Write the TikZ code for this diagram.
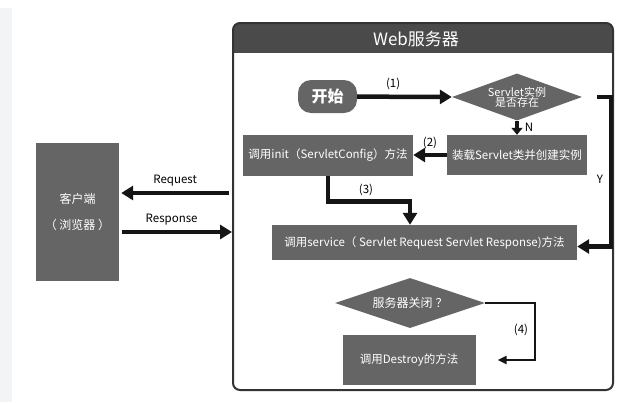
\documentclass[tikz,border=0pt]{standalone}
\usepackage{fontspec}
\setmainfont{Noto Sans CJK SC}
\usetikzlibrary{shapes.geometric,arrows.meta}
\definecolor{boxgray}{HTML}{656565}
\definecolor{headgray}{HTML}{4A4A4A}
\definecolor{framegray}{HTML}{333333}
\definecolor{stripgray}{HTML}{F3F4F6}
\definecolor{arrowblack}{HTML}{151515}
\begin{document}
\begin{tikzpicture}[x=1pt,y=-1pt,
  box/.style={fill=boxgray,text=white,inner sep=0pt,font=\fontsize{11.5}{14}\selectfont},
  decide/.style={diamond,fill=boxgray,inner sep=0pt},
  dtext/.style={text=white,align=center,font=\fontsize{12}{14}\selectfont},
  flow/.style={draw=arrowblack,line width=4.5pt,-{Triangle[length=12pt,width=14pt]}},
  shortflow/.style={draw=arrowblack,line width=4.5pt,-{Triangle[length=7pt,width=11pt]}},
  thinflow/.style={draw=arrowblack,line width=2.2pt,-{Triangle[length=9pt,width=8pt]}},
  lbl/.style={font=\fontsize{11.5}{13}\selectfont}]
  \useasboundingbox (0,0) rectangle (635,402);

  % page strip
  \fill[stripgray] (0,8) rectangle (12,402);

  % server frame with header
  \begin{scope}
    \clip[rounded corners=7pt] (233,23) rectangle (613,390);
    \fill[headgray] (233,23) rectangle (613,53);
  \end{scope}
  \draw[framegray,line width=2pt,rounded corners=7pt] (233,23) rectangle (613,390);
  \node (title) at (416,39) [text=white,font=\fontsize{17}{20}\selectfont] {Web服务器};

  % steps
  \node (start) at (327.5,96.5) [box,rounded corners=13pt,minimum width=59pt,minimum height=33pt,
    font=\fontsize{16}{18}\selectfont\bfseries] {开始};
  \node (chk) at (517,97) [decide,minimum width=130pt,minimum height=47pt] {};
  \node (chktext) at (chk.center) [dtext,font=\fontsize{11}{12}\selectfont] {Servlet实例\\[-2pt]是否存在};
  \node (load) at (517,155) [box,minimum width=140pt,minimum height=40pt] {装载Servlet类并创建实例};
  \node (init) at (328,155) [box,minimum width=170pt,minimum height=41pt] {调用init（ServletConfig）方法};
  \node (service) at (424.5,242.5) [box,minimum width=305pt,minimum height=35pt]
    {调用service（ Servlet Request Servlet Response)方法};
  \node (off) at (410,303) [decide,minimum width=150pt,minimum height=50pt] {};
  \node (offtext) at (off.center) [dtext] {服务器关闭\hspace{3pt}？};
  \node (destroy) at (409,360) [box,minimum width=133pt,minimum height=50pt] {调用Destroy的方法};

  % client
  \node (client) at (77.5,212) [box,minimum width=83pt,minimum height=138pt,align=center,
    font=\fontsize{12}{26}\selectfont] {客户端\\（ 浏览器 ）};

  % connectors
  \draw[flow] (start) -- (chk.west) node[pos=0.38,above=1pt,lbl,text=black] {(1)};
  \draw[shortflow] (chk.south) -- (load.north);
  \node (nlbl) at (529,127) [lbl] {N};
  \draw[flow] (load) -- (init) node[midway,above=1pt,lbl] {(2)};
  \draw[flow] (init.south) -- ++(0,26) -| ([xshift=-14.5pt]service.north);
  \node (lbl3) at (366,190) [lbl] {(3)};
  \coordinate (yturn) at (611,97);
  \draw[flow] ([xshift=15pt]chk.east) -- (yturn) |- ([yshift=-4pt]service.east);
  \node (ylbl) at (600,179) [lbl] {Y};
  \draw[thinflow] (off.east) -- (535,303) |- ([xshift=22pt]destroy.east);
  \node (lbl4) at (521,330) [lbl] {(4)};

  % request / response
  \coordinate (req) at (229,193);
  \coordinate (res) at (232,232);
  \draw[flow] (req) -- ([xshift=2pt]req -| client.east) node[pos=0.5,above=1pt,lbl] {Request};
  \draw[flow] ([xshift=3pt]res -| client.east) -- (res) node[pos=0.45,above=1pt,lbl] {Response};
\end{tikzpicture}
\end{document}
